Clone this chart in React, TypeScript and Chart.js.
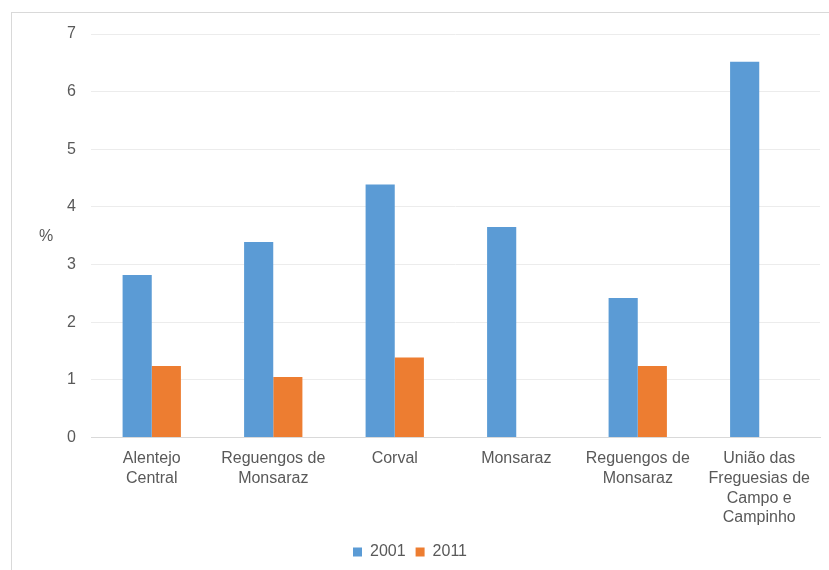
import React, { useEffect, useRef } from "react";
import { Chart, registerables } from "chart.js";

Chart.register(...registerables);

const categories: (string | string[])[] = [
  ["Alentejo", "Central"],
  ["Reguengos de", "Monsaraz"],
  "Corval",
  "Monsaraz",
  ["Reguengos de", "Monsaraz"],
  ["União das", "Freguesias de", "Campo e", "Campinho"],
];
const values2001: (number | null)[] = [2.82, 3.39, 4.39, 3.65, 2.42, 6.52];
const values2011: (number | null)[] = [1.24, 1.05, 1.39, null, 1.24, null];
const yTicks = [0, 1, 2, 3, 4, 5, 6, 7];
const yTitle = "%";

const FONT = "'Liberation Sans', Arial, sans-serif";
const TEXT = "#595959";

const yTitlePlugin = {
  id: "yTitleHorizontal",
  afterDraw(chart: any) {
    const { ctx, chartArea } = chart;
    ctx.save();
    ctx.font = `16px ${FONT}`;
    ctx.fillStyle = TEXT;
    ctx.textAlign = "center";
    ctx.textBaseline = "middle";
    ctx.fillText(yTitle, 46, (chartArea.top + chartArea.bottom) / 2 + 1);
    ctx.restore();
  },
};

export default function App() {
  const ref = useRef<HTMLCanvasElement | null>(null);
  useEffect(() => {
    if (!ref.current) return;
    const chart = new Chart(ref.current, {
      type: "bar",
      data: {
        labels: categories,
        datasets: [
          {
            label: "2001",
            data: values2001,
            backgroundColor: "#5B9BD5",
            categoryPercentage: 0.48,
            barPercentage: 1,
          },
          {
            label: "2011",
            data: values2011,
            backgroundColor: "#ED7D31",
            categoryPercentage: 0.48,
            barPercentage: 1,
          },
        ],
      },
      options: {
        animation: false,
        responsive: false,
        maintainAspectRatio: false,
        layout: { padding: { top: 34, right: 9, bottom: 0, left: 0 } },
        plugins: {
          legend: {
            position: "bottom",
            labels: {
              boxWidth: 9,
              boxHeight: 9,
              color: TEXT,
              font: { family: FONT, size: 16 },
              padding: 10,
            },
          },
          tooltip: { enabled: false },
        },
        scales: {
          x: {
            afterFit(scale: any) {
              scale.height = 96.5;
            },
            grid: { display: false },
            border: { display: true, color: "#d9d9d9" },
            ticks: {
              color: TEXT,
              font: { family: FONT, size: 16, lineHeight: 1.24 },
              maxRotation: 0,
              autoSkip: false,
              padding: 3,
            },
          },
          y: {
            min: 0,
            max: 7,
            afterFit(scale: any) {
              scale.width = 91;
            },
            afterBuildTicks(scale: any) {
              scale.ticks = yTicks.map((v) => ({ value: v }));
            },
            border: { display: false },
            grid: {
              color: (c: any) => (c.tick && c.tick.value === 0 ? "#d9d9d9" : "#ececec"),
              drawTicks: false,
            },
            ticks: {
              color: TEXT,
              font: { family: FONT, size: 16 },
              padding: 15,
            },
          },
        },
      },
      plugins: [yTitlePlugin],
    });
    return () => chart.destroy();
  }, []);

  return (
    <div style={{ position: "absolute", left: 0, top: 0, width: 829, height: 570, overflow: "hidden", background: "#fff" }}>
      <div
        style={{
          position: "absolute",
          left: 11,
          top: 12,
          width: 900,
          height: 700,
          border: "1px solid #d9d9d9",
          boxSizing: "border-box",
        }}
      />
      <canvas ref={ref} width={829} height={570} style={{ position: "absolute", left: 0, top: 0, width: 829, height: 570 }} />
    </div>
  );
}
